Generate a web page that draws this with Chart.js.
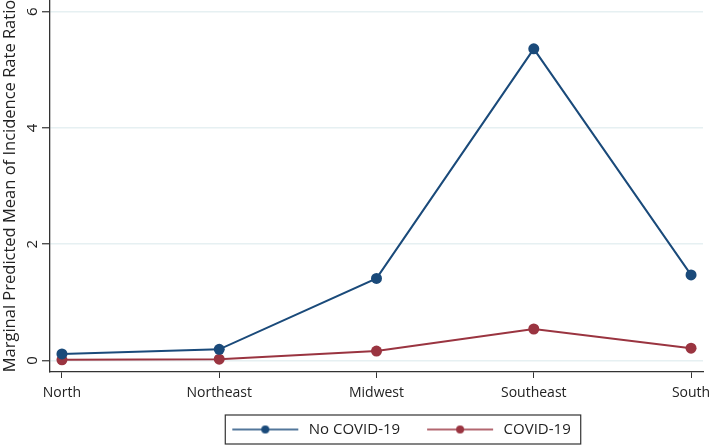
<!DOCTYPE html>
<html>
<head>
<meta charset="utf-8">
<script src="https://cdn.jsdelivr.net/npm/chart.js@4/dist/chart.umd.min.js"></script>
<style>
  html, body { margin: 0; padding: 0; background: #fff; }
  #wrap { width: 709px; height: 447px; }
</style>
</head>
<body>
<div id="wrap"><canvas id="lineChart"></canvas></div>
<script>
const regions = ['North', 'Northeast', 'Midwest', 'Southeast', 'South'];
const noCovid = [0.11, 0.19, 1.41, 5.36, 1.47];
const covid = [0.01, 0.02, 0.16, 0.54, 0.21];
const yTicks = [0, 2, 4, 6];

const blue = '#1a4a7a';
const red = '#9a3440';
const fontFamily = "'Open Sans', 'DejaVu Sans', sans-serif";

// legend symbol: transparent lead-in, then line with a dot
const symLead = 19;
const symLine = 66;
const symW = symLead + symLine + 3;
function legendSymbol(color) {
    const c = document.createElement('canvas');
    c.width = symW; c.height = 12;
    const g = c.getContext('2d');
    g.strokeStyle = color;
    g.lineWidth = 1.6;
    g.beginPath(); g.moveTo(symLead, 6); g.lineTo(symLead + symLine, 6); g.stroke();
    g.fillStyle = color;
    g.beginPath(); g.arc(symLead + symLine / 2, 6, 4, 0, Math.PI * 2); g.fill();
    return c;
}

const extras = {
    id: 'extras',
    afterLayout(chart) {
        // move the legend so its centre sits where the reference has it
        const lg = chart.legend;
        const dx = 392 - (lg.left + lg.right) / 2;
        lg.left += dx;
        lg.right += dx;
    },
    afterDraw(chart) {
        const ctx = chart.ctx;
        const y = chart.scales.y;
        ctx.save();
        ctx.fillStyle = '#222';
        ctx.font = '15px ' + fontFamily;
        ctx.textAlign = 'center';
        ctx.textBaseline = 'middle';
        yTicks.forEach(v => {
            ctx.save();
            ctx.translate(33, y.getPixelForValue(v));
            ctx.rotate(-Math.PI / 2);
            ctx.fillText(String(v), 0, 0);
            ctx.restore();
        });
        const boxes = chart.legend.legendHitBoxes;
        if (boxes && boxes.length) {
            const last = boxes[boxes.length - 1];
            const l = boxes[0].left + symLead - 7;
            const r = last.left + last.width + 10;
            const t = boxes[0].top - 7;
            const b = boxes[0].top + boxes[0].height + 7;
            ctx.strokeStyle = '#333';
            ctx.lineWidth = 1.2;
            ctx.strokeRect(l, t, r - l, b - t);
        }
        ctx.restore();
    }
};

const lineChart = new Chart(document.getElementById('lineChart').getContext('2d'), {
    type: 'line',
    data: {
        datasets: [
            {
                label: 'No COVID-19',
                data: noCovid.map((v, i) => ({ x: i, y: v })),
                borderColor: blue,
                backgroundColor: blue,
                borderWidth: 2,
                pointRadius: 5.5,
                pointHoverRadius: 5.5,
                pointBackgroundColor: blue,
                pointBorderWidth: 0
            },
            {
                label: 'COVID-19',
                data: covid.map((v, i) => ({ x: i, y: v })),
                borderColor: red,
                backgroundColor: red,
                borderWidth: 2,
                pointRadius: 5.5,
                pointHoverRadius: 5.5,
                pointBackgroundColor: red,
                pointBorderWidth: 0
            }
        ]
    },
    options: {
        responsive: true,
        maintainAspectRatio: false,
        animation: false,
        layout: { autoPadding: false, padding: { top: 0, right: 6, bottom: 0, left: 0 } },
        plugins: {
            tooltip: { enabled: false },
            legend: {
                position: 'bottom',
                labels: {
                    usePointStyle: true,
                    pointStyleWidth: symW,
                    color: '#222',
                    padding: 8,
                    font: { size: 15, family: fontFamily },
                    generateLabels(chart) {
                        return chart.data.datasets.map((ds, i) => ({
                            text: ds.label,
                            pointStyle: legendSymbol(ds.borderColor),
                            fillStyle: ds.borderColor,
                            strokeStyle: ds.borderColor,
                            lineWidth: 0,
                            fontColor: '#222',
                            hidden: false,
                            datasetIndex: i
                        }));
                    }
                }
            }
        },
        scales: {
            x: {
                type: 'linear',
                min: -0.076,
                max: 4.076,
                afterBuildTicks(scale) {
                    scale.ticks = regions.map((r, i) => ({ value: i }));
                },
                afterFit(scale) {
                    scale.height = 42;
                    scale.paddingLeft = 0;
                    scale.paddingRight = 0;
                },
                ticks: {
                    color: '#222',
                    padding: 7,
                    autoSkip: false,
                    maxRotation: 0,
                    font: { size: 14, family: fontFamily },
                    callback: v => regions[v]
                },
                grid: {
                    drawOnChartArea: false,
                    drawTicks: true,
                    tickLength: 6,
                    tickColor: '#333'
                },
                border: { color: '#333', width: 1.3 }
            },
            y: {
                min: -0.2,
                max: 6.2,
                afterBuildTicks(scale) {
                    scale.ticks = yTicks.map(v => ({ value: v }));
                },
                afterFit(scale) {
                    scale.width = 50;
                },
                ticks: { display: false },
                title: {
                    display: true,
                    text: 'Marginal Predicted Mean of Incidence Rate Ratio',
                    color: '#222',
                    padding: { top: 0, bottom: 0 },
                    font: { size: 16.5, family: fontFamily }
                },
                grid: {
                    color: '#e6f0f2',
                    lineWidth: 1.5,
                    tickLength: 8,
                    tickColor: '#333',
                    tickWidth: 1.2
                },
                border: { color: '#333', width: 1.3 }
            }
        }
    },
    plugins: [extras]
});
</script>
</body>
</html>
